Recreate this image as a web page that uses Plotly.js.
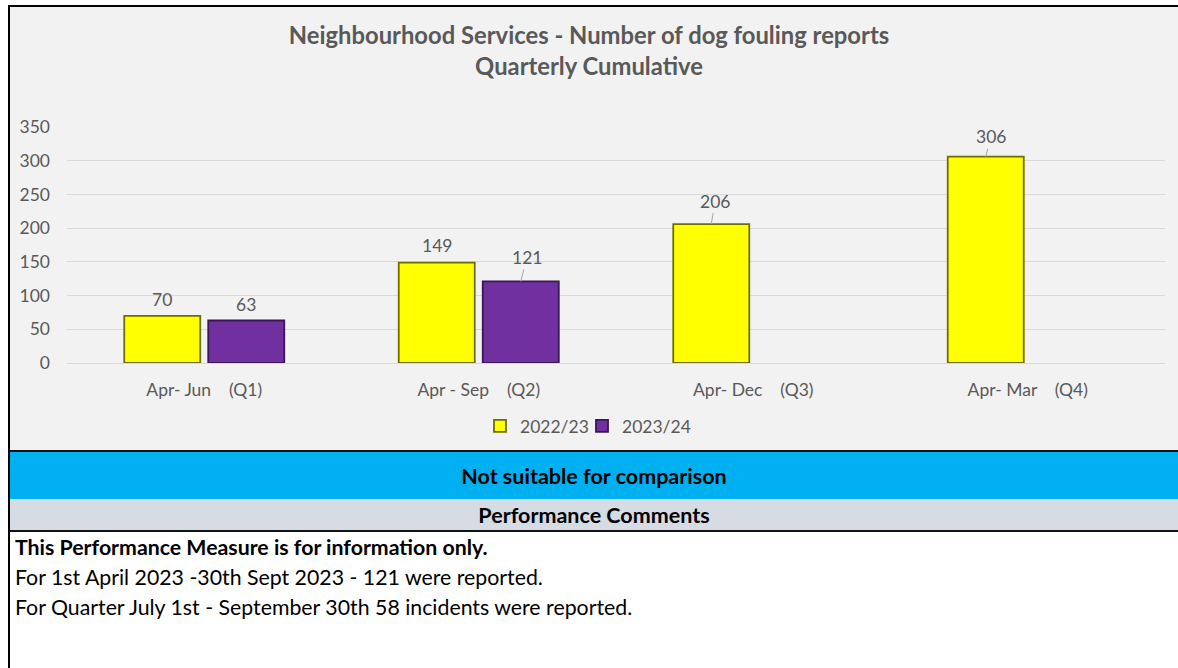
<!DOCTYPE html>
<html>
<head>
<meta charset="utf-8">
<script src="https://cdn.plot.ly/plotly-3.0.1.min.js"></script>
<style>
  html, body { margin:0; padding:0; background:#ffffff; }
  #page { position:relative; width:1178px; height:668px; overflow:hidden; font-family:Lato, "Open Sans", sans-serif; }
  #chartbox { position:absolute; left:8px; top:5px; width:1170px; height:446px; box-sizing:border-box;
              background:#F2F2F2; border-top:2px solid #000; border-left:2px solid #000; }
  #plot { position:absolute; left:0; top:0; width:1178px; height:451px; }
  #blue { position:absolute; left:8px; top:450px; width:1170px; height:51px; box-sizing:border-box;
          background:#00B0F0; border-top:2px solid #111; border-bottom:2px solid #111; border-left:2px solid #000;
          display:flex; align-items:center; justify-content:center; font-weight:bold; font-size:21.5px; color:#000; }
  #grey { position:absolute; left:8px; top:499px; width:1170px; height:33px; box-sizing:border-box;
          background:#D6DCE4; border-bottom:2px solid #111; border-left:2px solid #000;
          display:flex; align-items:center; justify-content:center; font-weight:bold; font-size:21.5px; color:#000; }
  #comments { position:absolute; left:8px; top:532px; width:1170px; height:136px; box-sizing:border-box;
              border-left:2px solid #000; font-size:21.3px; color:#000; }
  #comments div { position:absolute; left:5px; line-height:30px; white-space:nowrap; }
</style>
</head>
<body>
<div id="page">
  <div id="chartbox"></div>
  <div id="plot"></div>
  <div id="blue">Not suitable for comparison</div>
  <div id="grey">Performance Comments</div>
  <div id="comments">
    <div style="top:0px;font-weight:bold;">This Performance Measure is for information only.</div>
    <div style="top:30px;">For 1st April 2023 -30th Sept 2023 - 121 were reported.</div>
    <div style="top:60px;">For Quarter July 1st - September 30th 58 incidents were reported.</div>
  </div>
</div>
<script>
const categories = ["Apr-\u00a0Jun\u00a0\u00a0\u00a0\u00a0(Q1)", "Apr\u00a0-\u00a0Sep\u00a0\u00a0\u00a0\u00a0(Q2)", "Apr-\u00a0Dec\u00a0\u00a0\u00a0\u00a0(Q3)", "Apr-\u00a0Mar\u00a0\u00a0\u00a0\u00a0(Q4)"];
const seriesNames = ["2022/23", "2023/24"];
const values2022 = [70, 149, 206, 306];
const values2023 = [63, 121, null, null];
const yTicks = [0, 50, 100, 150, 200, 250, 300, 350];

const grey = "#595959";
const traces = [
  { type: "bar", name: seriesNames[0], x: categories, y: values2022, legend: "legend",
    marker: { color: "#FFFF00", line: { color: "#6F6F00", width: 1.8 } }, hoverinfo: "y" },
  { type: "bar", name: seriesNames[1], x: categories, y: values2023, legend: "legend2",
    marker: { color: "#7030A0", line: { color: "#3A1656", width: 1.8 } }, hoverinfo: "y" }
];

// data labels: offsets of label text from the bar top (px)
const labelFont = { family: "Lato, sans-serif", size: 17.5, color: grey };
const annotations = [];
function addLabel(cat, val, side, leader, ax, ay) {
  if (val === null) return;
  const a = { x: cat, y: val, xref: "x", yref: "y", text: String(val), font: labelFont, xshift: side * 42 };
  if (leader) {
    Object.assign(a, { showarrow: true, arrowhead: 0, arrowwidth: 1, arrowcolor: "#A6A6A6", ax: ax, ay: ay });
  } else {
    Object.assign(a, { showarrow: false, yanchor: "middle", yshift: ay });
  }
  annotations.push(a);
}
addLabel(categories[0], values2022[0], -1, false, 0, 16);
addLabel(categories[0], values2023[0], 1, false, 0, 16);
addLabel(categories[1], values2022[1], -1, false, 0, 17);
addLabel(categories[1], values2023[1], 1, true, 6, -24);
addLabel(categories[2], values2022[2], -1, true, 4, -23);
addLabel(categories[3], values2022[3], -1, true, 5, -20);

const legendFont = { family: "Lato, sans-serif", size: 17.5, color: grey };
const layout = {
  width: 1178, height: 451,
  paper_bgcolor: "rgba(0,0,0,0)", plot_bgcolor: "rgba(0,0,0,0)",
  margin: { l: 67, r: 13, t: 127, b: 88, pad: 0 },
  font: { family: "Lato, sans-serif", color: grey, size: 17.5 },
  title: { text: "Neighbourhood Services - Number of dog fouling reports<br>Quarterly Cumulative",
           font: { family: "Lato, sans-serif", size: 23.8, color: grey, weight: "bold" },
           x: 0.5, xref: "container", xanchor: "center", y: 1 - 44 / 451, yref: "container", yanchor: "middle" },
  barmode: "group", bargap: 0.388, bargroupgap: 0.095,
  xaxis: { type: "category", showgrid: false, zeroline: false, showline: false, ticks: "",
           tickfont: { family: "Lato, sans-serif", size: 17.5, color: grey }, ticklabelstandoff: 14 },
  yaxis: { range: [0, 350], tickvals: yTicks, showgrid: true, gridcolor: "#D9D9D9", gridwidth: 1,
           zeroline: true, zerolinecolor: "#D9D9D9", zerolinewidth: 1, showline: false, ticks: "",
           tickfont: { family: "Lato, sans-serif", size: 17.5, color: grey }, ticklabelstandoff: 16 },
  showlegend: true,
  legend: { orientation: "h", x: 480 / 1178, xref: "container", xanchor: "left",
            y: 1 - 426 / 451, yref: "container", yanchor: "middle",
            font: legendFont, itemwidth: 30, bgcolor: "rgba(0,0,0,0)" },
  legend2: { orientation: "h", x: 582 / 1178, xref: "container", xanchor: "left",
            y: 1 - 426 / 451, yref: "container", yanchor: "middle",
            font: legendFont, itemwidth: 30, bgcolor: "rgba(0,0,0,0)" },
  annotations: annotations
};

Plotly.newPlot("plot", traces, layout, { displayModeBar: false, staticPlot: true });
</script>
</body>
</html>
